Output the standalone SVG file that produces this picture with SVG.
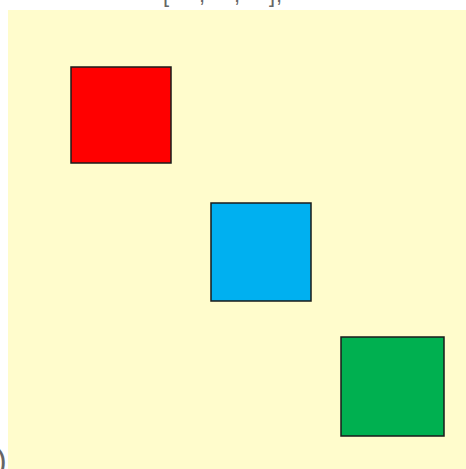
<svg xmlns="http://www.w3.org/2000/svg" width="466" height="469" viewBox="0 0 466 469">
<style>
.sq{stroke:#1a1a1a;stroke-width:1.5}
.lbl{font-family:"Liberation Sans",Arial,sans-serif;fill:#666666}
</style>
<rect x="0" y="0" width="466" height="469" fill="#ffffff"/>
<rect x="8" y="10" width="458" height="459" fill="#fffccc"/>
<text class="lbl" font-size="22" y="2"><tspan x="163">[</tspan><tspan x="199">,</tspan><tspan x="234">,</tspan><tspan x="269">]</tspan><tspan x="276">,</tspan></text>
<text class="lbl" font-size="32" x="-4" y="471" fill="#555555">)</text>
<g id="red"><rect class="sq" x="71" y="67" width="100" height="96" fill="#ff0000"/></g>
<g id="blue"><rect class="sq" x="211" y="203" width="100" height="98" fill="#00b0f0"/></g>
<g id="green"><rect class="sq" x="341" y="337" width="103" height="99" fill="#00b050"/></g>
<g id="connectors"></g>
</svg>
